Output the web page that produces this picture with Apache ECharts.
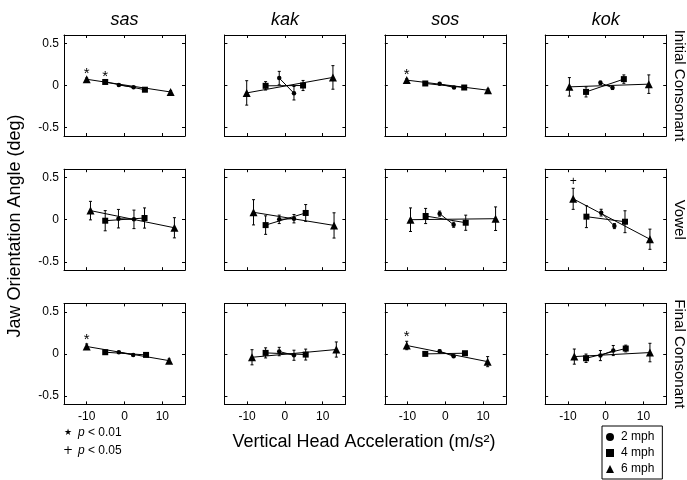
<!DOCTYPE html>
<html>
<head>
<meta charset="utf-8">
<script src="https://cdn.jsdelivr.net/npm/echarts@6/dist/echarts.min.js"></script>
<style>
  html, body { margin: 0; padding: 0; background: #fff; }
  #chart { width: 687px; height: 480px; }
</style>
</head>
<body>
<div id="chart"></div>
<script>
// column / row names
const words = ["sas", "kak", "sos", "kok"];
const rowNames = ["Initial Consonant", "Vowel", "Final Consonant"];
const xTicks = [-10, 0, 10];
const yTicks = [-0.5, 0, 0.5];
const speeds = ["2 mph", "4 mph", "6 mph"];

// panels row-major (Initial sas..kok, Vowel sas..kok, Final sas..kok)
// each panel: [[x, angle, err] for negative accel, [x, angle, err] for positive accel]
const mph2 = [
  [[-1.5, 0.006, 0.01], [2.4, -0.021, 0.01]],
  [[-1.5, 0.088, 0.08], [2.4, -0.092, 0.08]],
  [[-1.5, 0.02, 0.01], [2.3, -0.024, 0.01]],
  [[-1.4, 0.032, 0.02], [1.8, -0.028, 0.02]],
  [[-1.6, 0.012, 0.11], [2.5, 0.004, 0.11]],
  [[-1.5, 0.004, 0.05], [2.4, 0.012, 0.05]],
  [[-1.5, 0.072, 0.03], [2.2, -0.06, 0.03]],
  [[-1.2, 0.084, 0.04], [2.3, -0.076, 0.03]],
  [[-1.5, 0.02, 0.01], [2.3, -0.012, 0.01]],
  [[-1.5, 0.028, 0.05], [2.4, -0.016, 0.06]],
  [[-1.5, 0.032, 0.015], [2.2, -0.028, 0.015]],
  [[-1.4, -0.02, 0.06], [2.0, 0.04, 0.06]]
];
const mph4 = [
  [[-5.1, 0.042, 0.012], [5.4, -0.05, 0.012]],
  [[-5.1, -0.004, 0.05], [4.8, 0, 0.06]],
  [[-5.3, 0.024, 0.012], [5.0, -0.024, 0.012]],
  [[-5.2, -0.076, 0.06], [4.8, 0.076, 0.05]],
  [[-5.1, -0.012, 0.12], [5.3, 0.02, 0.12]],
  [[-5.1, -0.064, 0.11], [5.5, 0.08, 0.1]],
  [[-5.2, 0.044, 0.09], [5.4, -0.036, 0.09]],
  [[-5.1, 0.036, 0.13], [5.1, -0.024, 0.13]],
  [[-5.1, 0.02, 0.012], [5.7, -0.012, 0.012]],
  [[-5.1, 0.012, 0.06], [5.5, -0.008, 0.065]],
  [[-5.3, 0, 0.012], [5.2, 0.008, 0.012]],
  [[-5.2, -0.052, 0.05], [5.3, 0.064, 0.04]]
];
const mph6 = [
  [[-10.0, 0.074, 0.015], [12.2, -0.077, 0.015]],
  [[-10.1, -0.088, 0.145], [12.7, 0.096, 0.14]],
  [[-10.2, 0.064, 0.015], [11.3, -0.056, 0.015]],
  [[-9.6, -0.016, 0.11], [11.4, 0.016, 0.11]],
  [[-9.0, 0.108, 0.11], [13.2, -0.096, 0.12]],
  [[-8.3, 0.088, 0.15], [13.0, -0.068, 0.15]],
  [[-9.2, 0, 0.14], [13.3, 0.012, 0.14]],
  [[-8.6, 0.248, 0.125], [11.7, -0.232, 0.12]],
  [[-10.0, 0.088, 0.03], [11.8, -0.08, 0.02]],
  [[-8.7, -0.04, 0.09], [13.6, 0.052, 0.09]],
  [[-10.2, 0.1, 0.05], [11.2, -0.092, 0.06]],
  [[-8.3, -0.032, 0.09], [11.7, 0.016, 0.11]]
];
// significance marks: [panel, speed index, point index]
const starMarks = [[0, 2, 0], [0, 1, 0], [2, 2, 0], [8, 2, 0], [10, 2, 0]];
const plusMarks = [[7, 2, 0]];

const bySpeed = [mph2, mph4, mph6];
const symbols = ["circle", "rect", "triangle"];
const symbolSizes = [4.5, 6, 8];
const font = "Liberation Sans, Arial, Helvetica, sans-serif";
const ink = "#000";

const chart = echarts.init(document.getElementById("chart"));

const grid = [], xAxis = [], yAxis = [], series = [];

for (let i = 0; i < 12; i++) {
  const r = Math.floor(i / 4), c = i % 4;
  grid.push({ left: 64 + 160.4 * c, top: 35 + 134.2 * r, width: 121, height: 101 });

  const line = { onZero: false, lineStyle: { color: ink, width: 1 } };
  const tick = (vals) => ({ inside: true, length: 3, customValues: vals, lineStyle: { color: ink, width: 1 } });

  xAxis.push({
    type: "value", gridIndex: i, position: "bottom", min: -16, max: 16,
    axisLine: line, axisTick: tick(xTicks), splitLine: { show: false },
    axisLabel: { show: r === 2, customValues: xTicks, margin: 6, fontSize: 12, color: ink, fontFamily: font }
  });
  xAxis.push({
    type: "value", gridIndex: i, position: "top", min: -16, max: 16,
    axisLine: line, axisTick: tick(xTicks), splitLine: { show: false }, axisLabel: { show: false }
  });
  yAxis.push({
    type: "value", gridIndex: i, position: "left", min: -0.6, max: 0.6,
    axisLine: line, axisTick: tick(yTicks), splitLine: { show: false },
    axisLabel: { show: c === 0, customValues: yTicks, margin: 5, fontSize: 12, color: ink, fontFamily: font }
  });
  yAxis.push({
    type: "value", gridIndex: i, position: "right", min: -0.6, max: 0.6,
    axisLine: line, axisTick: tick(yTicks), splitLine: { show: false }, axisLabel: { show: false }
  });

  // error bars
  const bars = [];
  bySpeed.forEach(s => s[i].forEach(p => bars.push([p[0], p[1] - p[2], p[1] + p[2]])));
  series.push({
    type: "custom", xAxisIndex: 2 * i, yAxisIndex: 2 * i, z: 2, silent: true,
    data: bars, encode: { x: 0, y: [1, 2] },
    renderItem: (params, api) => {
      const a = api.coord([api.value(0), api.value(1)]);
      const b = api.coord([api.value(0), api.value(2)]);
      const st = { stroke: ink, lineWidth: 1 };
      return {
        type: "group", children: [
          { type: "line", shape: { x1: a[0], y1: a[1], x2: b[0], y2: b[1] }, style: st },
          { type: "line", shape: { x1: a[0] - 1.5, y1: a[1], x2: a[0] + 1.5, y2: a[1] }, style: st },
          { type: "line", shape: { x1: b[0] - 1.5, y1: b[1], x2: b[0] + 1.5, y2: b[1] }, style: st }
        ]
      };
    }
  });

  // speed lines
  bySpeed.forEach((s, k) => {
    series.push({
      name: speeds[k], type: "line", xAxisIndex: 2 * i, yAxisIndex: 2 * i, z: 3,
      data: s[i].map(p => [p[0], p[1]]),
      symbol: symbols[k], symbolSize: symbolSizes[k], showSymbol: true,
      color: ink, lineStyle: { color: ink, width: 1 }, itemStyle: { color: ink }
    });
  });

  // significance marks
  const marks = [];
  starMarks.filter(m => m[0] === i).forEach(m => {
    const p = bySpeed[m[1]][i][m[2]];
    marks.push([p[0], p[1] + p[2], "*"]);
  });
  plusMarks.filter(m => m[0] === i).forEach(m => {
    const p = bySpeed[m[1]][i][m[2]];
    marks.push([p[0], p[1] + p[2], "+"]);
  });
  if (marks.length) {
    series.push({
      type: "custom", xAxisIndex: 2 * i, yAxisIndex: 2 * i, z: 4, silent: true,
      data: marks, encode: { x: 0, y: 1 },
      renderItem: (params, api) => {
        const pt = api.coord([api.value(0), api.value(1)]);
        const txt = marks[params.dataIndex][2];
        return {
          type: "text", x: pt[0], y: pt[1] - (txt === "*" ? 4 : 7),
          style: { text: txt, fontSize: txt === "*" ? 15 : 12, fontFamily: font, fill: ink,
                   textAlign: "center", textVerticalAlign: "middle" }
        };
      }
    });
  }
}

const graphic = [];
words.forEach((w, c) => graphic.push({
  type: "text", x: 64 + 160.4 * c + 60.5, y: 20,
  style: { text: w, fontSize: 18, fontStyle: "italic", fontFamily: font, fill: ink,
           textAlign: "center", textVerticalAlign: "middle" }
}));
rowNames.forEach((n, r) => graphic.push({
  type: "text", x: 679, y: 35 + 134.2 * r + 50.5, rotation: -Math.PI / 2,
  style: { text: n, fontSize: 15, fontFamily: font, fill: ink,
           textAlign: "center", textVerticalAlign: "middle" }
}));
graphic.push({
  type: "text", x: 15, y: 226, rotation: Math.PI / 2,
  style: { text: "Jaw Orientation Angle (deg)", fontSize: 18, fontFamily: font, fill: ink,
           textAlign: "center", textVerticalAlign: "middle" }
});
graphic.push({
  type: "text", x: 364, y: 442,
  style: { text: "Vertical Head Acceleration (m/s²)", fontSize: 18, fontFamily: font, fill: ink,
           textAlign: "center", textVerticalAlign: "middle" }
});
[["★", "< 0.01", 433], ["+", "< 0.05", 451]].forEach(([s, t, y]) => {
  graphic.push({
    type: "text", x: 68, y: y,
    style: { text: s, fontSize: s === "★" ? 9 : 12, fontFamily: "DejaVu Sans, sans-serif", fill: ink,
             textAlign: "center", textVerticalAlign: "middle" }
  });
  graphic.push({
    type: "text", x: 78, y: y,
    style: { text: "{i|p} " + t, fontSize: 12, fontFamily: font, fill: ink, textVerticalAlign: "middle",
             rich: { i: { fontStyle: "italic", fontSize: 12, fontFamily: font } } }
  });
});

chart.setOption({
  animation: false,
  textStyle: { fontFamily: font },
  grid, xAxis, yAxis, series, graphic,
  legend: {
    orient: "vertical", left: 602, top: 426,
    data: speeds.map((s, k) => ({ name: s, icon: symbols[k] })),
    itemWidth: 8, itemHeight: 8, itemGap: 4,
    borderColor: ink, borderWidth: 1, borderRadius: 0, padding: [5, 8, 4, 4],
    textStyle: { fontSize: 12, color: ink, fontFamily: font, padding: [0, 0, 0, 2] },
    selectedMode: false
  }
});
</script>
</body>
</html>
